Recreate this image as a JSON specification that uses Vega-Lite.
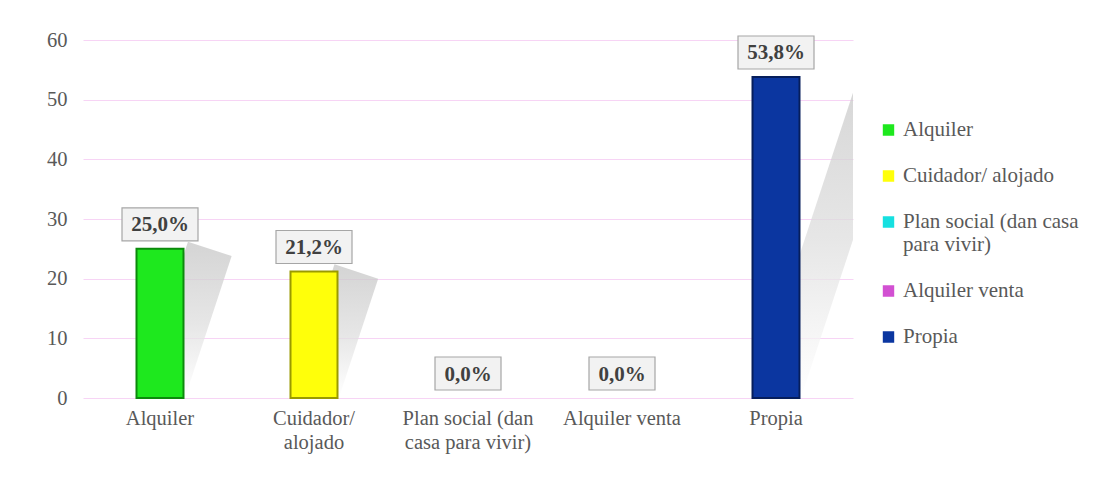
{
  "$schema": "https://vega.github.io/schema/vega-lite/v6.json",
  "width": 770,
  "height": 358,
  "autosize": "none",
  "padding": {"left": 83, "top": 40, "right": 241, "bottom": 88},
  "background": "white",
  "config": {
    "font": "Liberation Serif",
    "view": {"stroke": null},
    "axis": {"labelFont": "Liberation Serif, Times New Roman, serif"},
    "legend": {"labelFont": "Liberation Serif, Times New Roman, serif"}
  },
  "datasets": {
    "bars": [
      {"cat": "Alquiler", "pct": 25.0, "label": "25,0%"},
      {"cat": "Cuidador/ alojado", "pct": 21.2, "label": "21,2%"},
      {"cat": "Plan social (dan casa para vivir)", "pct": 0.0, "label": "0,0%"},
      {"cat": "Alquiler venta", "pct": 0.0, "label": "0,0%"},
      {"cat": "Propia", "pct": 53.8, "label": "53,8%"}
    ],
    "shadow": [
      {"cat": "Alquiler", "lvl": 0},
      {"cat": "Alquiler", "lvl": 25.0},
      {"cat": "Cuidador/ alojado", "lvl": 0},
      {"cat": "Cuidador/ alojado", "lvl": 21.2},
      {"cat": "Propia", "lvl": 0},
      {"cat": "Propia", "lvl": 53.8}
    ]
  },
  "data": {"name": "bars"},
  "encoding": {
    "x": {
      "field": "cat",
      "type": "nominal",
      "sort": ["Alquiler", "Cuidador/ alojado", "Plan social (dan casa para vivir)", "Alquiler venta", "Propia"],
      "scale": {"domain": ["Alquiler", "Cuidador/ alojado", "Plan social (dan casa para vivir)", "Alquiler venta", "Propia"], "paddingInner": 0.69, "paddingOuter": 0.345},
      "axis": {
        "title": null,
        "labelAngle": 0,
        "labelFontSize": 20.5,
        "labelColor": "#595959",
        "labelPadding": 10,
        "labelLineHeight": 24,
        "labelBaseline": "top",
        "domain": false,
        "ticks": false,
        "labelExpr": "datum.label == 'Cuidador/ alojado' ? ['Cuidador/', 'alojado'] : datum.label == 'Plan social (dan casa para vivir)' ? ['Plan social (dan', 'casa para vivir)'] : datum.label"
      }
    }
  },
  "layer": [
    {
      "data": {"name": "shadow"},
      "mark": {
        "type": "line",
        "strokeWidth": 46,
        "strokeCap": "butt",
        "clip": true,
        "stroke": {
          "gradient": "linear",
          "x1": 0, "y1": 0, "x2": 0, "y2": 1,
          "stops": [
            {"offset": 0, "color": "#c8c8c8"},
            {"offset": 0.5, "color": "#dedede"},
            {"offset": 0.85, "color": "#f6f6f6"},
            {"offset": 1, "color": "#ffffff"}
          ]
        },
        "opacity": 0.75
      },
      "encoding": {
        "y": {"field": "lvl", "type": "quantitative"},
        "xOffset": {"field": "lvl", "type": "quantitative", "scale": {"domain": [0, 60], "range": [24.5, 142.5]}},
        "detail": {"field": "cat"}
      }
    },
    {
      "mark": {"type": "bar", "strokeWidth": 2, "width": 47},
      "encoding": {
        "y": {
          "field": "pct",
          "type": "quantitative",
          "scale": {"domain": [0, 60], "nice": false},
          "axis": {
            "title": null,
            "values": [0, 10, 20, 30, 40, 50, 60],
            "labelFontSize": 20.5,
            "labelColor": "#595959",
            "labelPadding": 16,
            "domain": false,
            "ticks": false,
            "grid": true,
            "gridColor": "#f7d4f5",
            "gridWidth": 1
          }
        },
        "color": {
          "field": "cat",
          "type": "nominal",
          "sort": null,
          "scale": {
            "domain": ["Alquiler", "Cuidador/ alojado", "Plan social (dan casa para vivir)", "Alquiler venta", "Propia"],
            "range": ["#1ee81e", "#ffff0a", "#16e0e0", "#d250d2", "#0b36a0"]
          },
          "legend": {
            "title": null,
            "orient": "none",
            "legendX": 795,
            "legendY": 80,
            "symbolType": "square",
            "symbolSize": 130,
            "symbolStrokeWidth": 0,
            "labelFontSize": 21,
            "labelColor": "#595959",
            "labelOffset": 4,
            "labelLimit": 300,
            "labelLineHeight": 23,
            "clipHeight": 20,
            "rowPadding": 25,
            "labelExpr": "datum.label == 'Plan social (dan casa para vivir)' ? ['Plan social (dan casa', 'para vivir)'] : datum.label"
          }
        },
        "stroke": {
          "field": "cat",
          "type": "nominal",
          "sort": null,
          "legend": null,
          "scale": {
            "domain": ["Alquiler", "Cuidador/ alojado", "Plan social (dan casa para vivir)", "Alquiler venta", "Propia"],
            "range": ["#0c8a0c", "#9a9a00", "#0a8080", "#803080", "#061e5c"]
          }
        },
        "strokeOpacity": {
          "condition": {"test": "datum.pct == 0", "value": 0},
          "value": 1
        }
      }
    },
    {
      "mark": {"type": "point", "filled": true, "fill": "#f2f2f2", "stroke": "#a6a6a6", "strokeWidth": 1.2, "opacity": 1, "yOffset": -24.5},
      "encoding": {
        "y": {"field": "pct", "type": "quantitative"},
        "shape": {
          "condition": {"test": "datum.pct < 10", "value": "M-1,-0.5H1V0.5H-1Z"},
          "value": "M-1,-0.434H1V0.434H-1Z"
        },
        "size": {
          "condition": {"test": "datum.pct < 10", "value": 4356},
          "value": 5776
        }
      }
    },
    {
      "mark": {"type": "text", "font": "Liberation Serif", "fontSize": 21, "fontWeight": "bold", "color": "#404040", "yOffset": -23.5, "baseline": "middle"},
      "encoding": {
        "y": {"field": "pct", "type": "quantitative"},
        "text": {"field": "label"}
      }
    }
  ]
}
